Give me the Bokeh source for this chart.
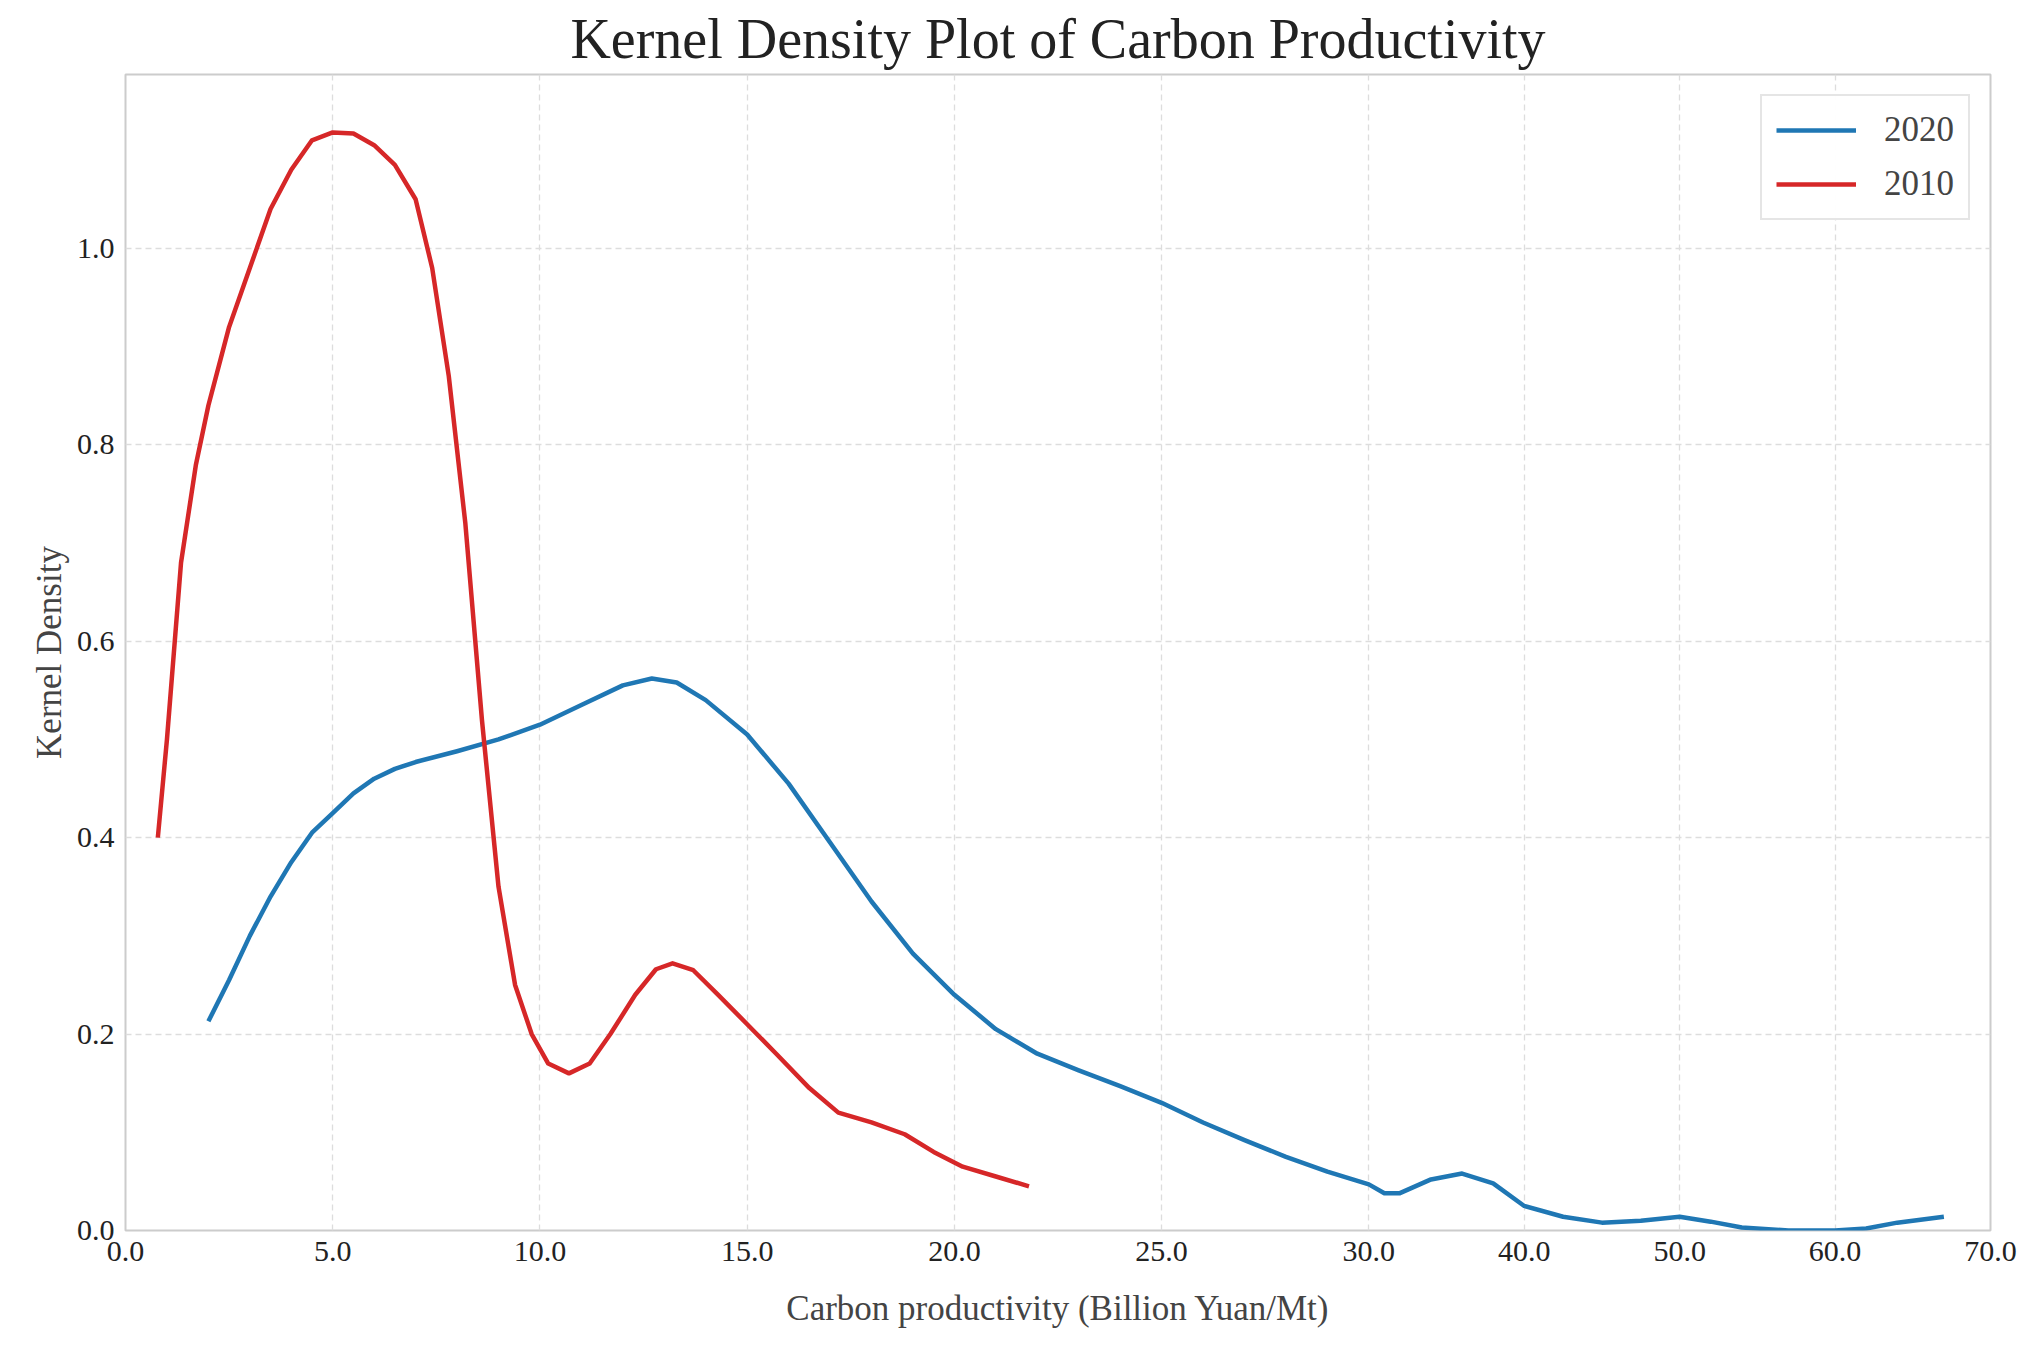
from bokeh.plotting import figure
from bokeh.models import FixedTicker, Legend, LegendItem
from bokeh.embed import file_html
from bokeh.resources import INLINE

x2020 = [2,2.5,3,3.5,4,4.5,5,5.5,6,6.5,7,8,9,10,11,12,12.7,13.3,14,15,16,17,18,19,20,21,22,23,24,25,26,27,28,29,30,31,32,34,36,38,40,42.5,45,47.5,50,52,54,57,60,62,64,67]
y2020 = [0.213,0.255,0.3,0.34,0.375,0.405,0.425,0.445,0.46,0.47,0.477,0.488,0.5,0.515,0.535,0.555,0.562,0.558,0.54,0.505,0.455,0.395,0.335,0.282,0.24,0.205,0.18,0.163,0.147,0.13,0.11,0.092,0.075,0.06,0.047,0.038,0.038,0.052,0.058,0.048,0.025,0.014,0.008,0.01,0.014,0.009,0.003,0.0,0.0,0.002,0.008,0.014]
x2010 = [0.78,1.0,1.34,1.7,2,2.5,3,3.5,4,4.5,5,5.5,6,6.5,7,7.4,7.8,8.2,8.6,9,9.4,9.8,10.2,10.7,11.2,11.7,12.3,12.8,13.2,13.7,14.3,15,15.7,16.5,17.2,18,18.8,19.5,20.2,21,21.8]
y2010 = [0.40,0.5,0.68,0.78,0.84,0.92,0.98,1.04,1.08,1.11,1.118,1.117,1.105,1.085,1.05,0.98,0.87,0.72,0.52,0.35,0.25,0.2,0.17,0.16,0.17,0.2,0.24,0.266,0.272,0.265,0.24,0.21,0.18,0.145,0.12,0.11,0.098,0.08,0.065,0.055,0.045]
xticks = [0,5,10,15,20,25,30,40,50,60,70]
yticks = [0.0,0.2,0.4,0.6,0.8,1.0]

def tr(x):
    return x if x <= 30 else 30 + (x - 30) * 0.375

F = "Liberation Serif"
p = figure(width=2020, height=1330, output_backend="svg", toolbar_location=None,
           x_range=(0, tr(70)), y_range=(0, 1.177),
           title="Kernel Density Plot of Carbon Productivity")
p.min_border_left = 125; p.min_border_right = 30; p.min_border_top = 22; p.min_border_bottom = 100
p.title.text_font = F; p.title.text_font_size = "56px"; p.title.align = "center"
p.title.text_font_style = "normal"; p.title.text_color = "#222222"
r1 = p.line([tr(v) for v in x2020], y2020, line_color="#1f77b4", line_width=4.5, line_join="round")
r2 = p.line([tr(v) for v in x2010], y2010, line_color="#d62728", line_width=4.5, line_join="round")
p.xaxis.ticker = FixedTicker(ticks=[tr(v) for v in xticks])
p.xaxis.major_label_overrides = {tr(v): f"{v:.1f}" for v in xticks}
p.yaxis.ticker = FixedTicker(ticks=yticks)
p.yaxis.major_label_overrides = {v: f"{v:.1f}" for v in yticks}
for ax in (p.xaxis[0], p.yaxis[0]):
    ax.major_label_text_font = F; ax.major_label_text_font_size = "30px"
    ax.axis_label_text_font = F; ax.axis_label_text_font_size = "35px"
    ax.axis_label_text_font_style = "normal"
    ax.axis_line_color = None; ax.major_tick_line_color = None; ax.minor_tick_line_color = None
    ax.major_label_text_color = "#222222"
p.xaxis.axis_label_standoff = 25
p.xaxis.axis_label = "Carbon productivity (Billion Yuan/Mt)"
p.yaxis.axis_label = "Kernel Density"
p.grid.grid_line_dash = "6 4"; p.grid.grid_line_color = "#dddddd"; p.grid.grid_line_width = 1.3
p.outline_line_color = "#cccccc"; p.outline_line_width = 2
leg = Legend(items=[LegendItem(label="2020", renderers=[r1]), LegendItem(label="2010", renderers=[r2])],
             location="top_right", label_text_font=F, label_text_font_size="35px",
             glyph_width=80, border_line_color="#cccccc", border_line_width=2,
             padding=14, spacing=14, margin=20, label_standoff=28)
p.add_layout(leg)
open("out.html", "w").write(file_html(p, INLINE))
